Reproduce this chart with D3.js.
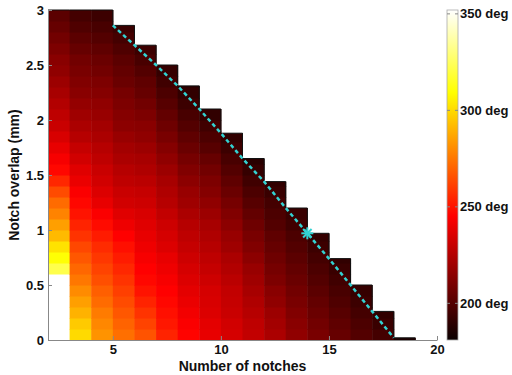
<!DOCTYPE html>
<meta charset="utf-8">
<style type="text/css">
  body { margin: 0; background: #fff; }
  text { font-family: "Liberation Sans", Arial, sans-serif; font-weight: bold; fill: #111; }
  .axis path, .axis line { stroke: #888; }
</style>
<body>
</body>
<script src="https://d3js.org/d3.v7.min.js"></script>
<script>
  // phase (deg) per notch count, rows of 0.1 mm overlap from the column bottom
  var notches = [2, 3, 4, 5, 6, 7, 8, 9, 10, 11, 12, 13, 14, 15, 16, 17, 18];
  var colBottom = [0.6, 0, 0, 0, 0, 0, 0, 0, 0, 0, 0, 0, 0, 0, 0, 0, 0];
  var colTop = [3, 3, 3, 2.86, 2.68, 2.5, 2.31, 2.1, 1.88, 1.65, 1.44, 1.2, 0.97, 0.74, 0.5, 0.26, 0.02];

  var deg2 = [322, 310, 302, 292, 285, 278, 272, 264, 255, 247, 243, 239, 235, 231, 228, 225, 222, 219, 216, 214, 211, 208, 205, 202];
  var deg3 = [300, 296, 290, 285, 280, 275, 271, 267, 263, 258, 254, 250, 247, 244, 240, 237, 233, 230, 226, 223, 220, 217, 214, 212, 210, 208, 205, 202, 199, 196];
  var deg4 = [282, 279, 276, 272, 269, 265, 262, 259, 256, 252, 248, 244, 239, 236, 233, 231, 228, 226, 223, 221, 218, 216, 213, 211, 208, 206, 203, 200, 197, 194];
  var deg5 = [273, 270, 267, 264, 261, 258, 255, 252, 249, 245, 241, 237, 233, 231, 228, 226, 223, 221, 218, 215, 213, 211, 209, 206, 204, 202, 199, 196, 193];
  var deg6 = [266, 262, 258, 254, 250, 247, 245, 243, 241, 239, 237, 235, 232, 230, 227, 224, 222, 219, 216, 214, 211, 208, 205, 203, 200, 197, 194];
  var deg7 = [254, 251, 249, 247, 245, 243, 241, 239, 236, 234, 232, 229, 226, 224, 222, 219, 216, 213, 210, 207, 204, 201, 198, 195, 192];
  var deg8 = [246, 244, 242, 240, 238, 236, 234, 232, 230, 228, 226, 223, 220, 218, 215, 212, 209, 206, 203, 200, 197, 194, 191, 189];
  var deg9 = [239, 238, 236, 235, 234, 232, 230, 228, 226, 224, 222, 219, 216, 213, 211, 208, 205, 201, 198, 195, 191];
  var deg10 = [234, 233, 231, 230, 229, 227, 225, 223, 220, 218, 215, 212, 209, 206, 203, 200, 197, 194, 191];
  var deg11 = [229, 228, 226, 224, 222, 220, 218, 215, 212, 210, 207, 204, 201, 198, 195, 192, 189];
  var deg12 = [223, 221, 219, 216, 214, 211, 209, 207, 205, 203, 200, 198, 196, 193, 191];
  var deg13 = [216, 214, 212, 210, 208, 206, 204, 202, 200, 198, 195, 193];
  var deg14 = [210, 208, 206, 204, 202, 200, 198, 196, 194, 192];
  var deg15 = [205, 203, 201, 199, 197, 195, 193, 191];
  var deg16 = [200, 198, 196, 194, 192];
  var deg17 = [196, 193, 191];
  var deg18 = [185];
  var phase = [deg2, deg3, deg4, deg5, deg6, deg7, deg8, deg9, deg10, deg11, deg12, deg13, deg14, deg15, deg16, deg17, deg18];

  var rowStep = 0.1;
  var marked = { n: 14, overlap: 0.97 };
  var xTicks = [5, 10, 15, 20];
  var yTicks = [0, 0.5, 1, 1.5, 2, 2.5, 3];
  var cTicks = [200, 250, 300, 350];
  var cRange = [181, 352];

  var W = 512, H = 375;
  var svg = d3.select("body").append("svg")
    .attr("width", W)
    .attr("height", H);

  var x = d3.scaleLinear().domain([2, 20]).range([48, 437]);
  var y = d3.scaleLinear().domain([0, 3]).range([340, 10]);

  // MATLAB "hot" colormap
  var span = cRange[1] - cRange[0];
  var color = d3.scaleLinear()
    .domain([cRange[0], cRange[0] + 0.375 * span, cRange[0] + 0.75 * span, cRange[1]])
    .range(["#0b0000", "#ff0000", "#ffff00", "#ffffff"])
    .clamp(true);

  // cells
  var cells = [];
  notches.forEach(function(n, i) {
    phase[i].forEach(function(v, k) {
      var y0 = colBottom[i] + k * rowStep;
      var y1 = Math.min(y0 + rowStep, colTop[i]);
      cells.push({ n: n, y0: y0, y1: y1, v: v });
    });
  });

  svg.append("g").selectAll("rect")
    .data(cells)
    .enter().append("rect")
    .attr("x", function(d) { return x(d.n); })
    .attr("width", x(3) - x(2) + 0.5)
    .attr("y", function(d) { return y(d.y1); })
    .attr("height", function(d) { return y(d.y0) - y(d.y1) + 0.5; })
    .attr("fill", function(d) { return color(d.v); });

  // thin dark outline along the staircase top
  var stair = [];
  notches.forEach(function(n, i) {
    stair.push([n, colTop[i]]);
    stair.push([n + 1, colTop[i]]);
  });
  svg.append("path")
    .datum(stair)
    .attr("d", d3.line().x(function(d) { return x(d[0]); }).y(function(d) { return y(d[1]); }))
    .attr("fill", "none")
    .attr("stroke", "#111")
    .attr("stroke-width", 1);

  // axes (ticks inward)
  var xAxis = svg.append("g")
    .attr("class", "axis")
    .attr("transform", "translate(0," + y(0) + ")")
    .call(d3.axisBottom(x).tickValues(xTicks).tickSize(-4).tickPadding(5).tickSizeOuter(0));
  xAxis.selectAll("text").attr("font-size", 13);

  var yAxis = svg.append("g")
    .attr("class", "axis")
    .attr("transform", "translate(" + x(2) + ",0)")
    .call(d3.axisLeft(y).tickValues(yTicks).tickFormat(d3.format("")).tickSize(-4).tickPadding(4).tickSizeOuter(0));
  yAxis.selectAll("text").attr("font-size", 13);

  // boundary line through the column corners
  var edge = [];
  notches.forEach(function(n, i) {
    if (n >= 5) edge.push([n, colTop[i]]);
  });
  svg.append("path")
    .datum(edge)
    .attr("d", d3.line().x(function(d) { return x(d[0]); }).y(function(d) { return y(d[1]); }))
    .attr("fill", "none")
    .attr("stroke", "#33d2d2")
    .attr("stroke-width", 2.5)
    .attr("stroke-dasharray", "4,3");

  // star marker
  var sx = x(marked.n), sy = y(marked.overlap), r = 6;
  var star = svg.append("g").attr("stroke", "#33d2d2").attr("stroke-width", 2);
  [0, 45, 90, 135].forEach(function(a) {
    var rad = a * Math.PI / 180;
    star.append("line")
      .attr("x1", sx - r * Math.cos(rad)).attr("y1", sy - r * Math.sin(rad))
      .attr("x2", sx + r * Math.cos(rad)).attr("y2", sy + r * Math.sin(rad));
  });

  // axis titles
  svg.append("text")
    .attr("x", x(11))
    .attr("y", 371)
    .attr("text-anchor", "middle")
    .attr("font-size", 14)
    .text("Number of notches");

  svg.append("text")
    .attr("transform", "translate(19," + y(1.5) + ") rotate(-90)")
    .attr("text-anchor", "middle")
    .attr("font-size", 14)
    .text("Notch overlap (mm)");

  // colorbar
  var cb = { x: 447, w: 11 };
  var cy = d3.scaleLinear().domain(cRange).range([340, 10]);
  var grad = svg.append("defs").append("linearGradient")
    .attr("id", "hot")
    .attr("x1", 0).attr("y1", 1).attr("x2", 0).attr("y2", 0);
  color.domain().forEach(function(v) {
    grad.append("stop")
      .attr("offset", (v - cRange[0]) / span)
      .attr("stop-color", color(v));
  });
  svg.append("rect")
    .attr("x", cb.x)
    .attr("y", cy(cRange[1]))
    .attr("width", cb.w)
    .attr("height", cy(cRange[0]) - cy(cRange[1]))
    .attr("fill", "url(#hot)")
    .attr("stroke", "#aaa")
    .attr("stroke-width", 0.8);

  var cg = svg.append("g");
  cTicks.forEach(function(t) {
    cg.append("line")
      .attr("x1", cb.x).attr("x2", cb.x + 3)
      .attr("y1", cy(t)).attr("y2", cy(t))
      .attr("stroke", "#888");
    cg.append("line")
      .attr("x1", cb.x + cb.w - 3).attr("x2", cb.x + cb.w)
      .attr("y1", cy(t)).attr("y2", cy(t))
      .attr("stroke", "#888");
    cg.append("text")
      .attr("x", cb.x + cb.w + 2)
      .attr("y", cy(t))
      .attr("dy", "0.35em")
      .attr("font-size", 13)
      .text(t + " deg");
  });
</script>
